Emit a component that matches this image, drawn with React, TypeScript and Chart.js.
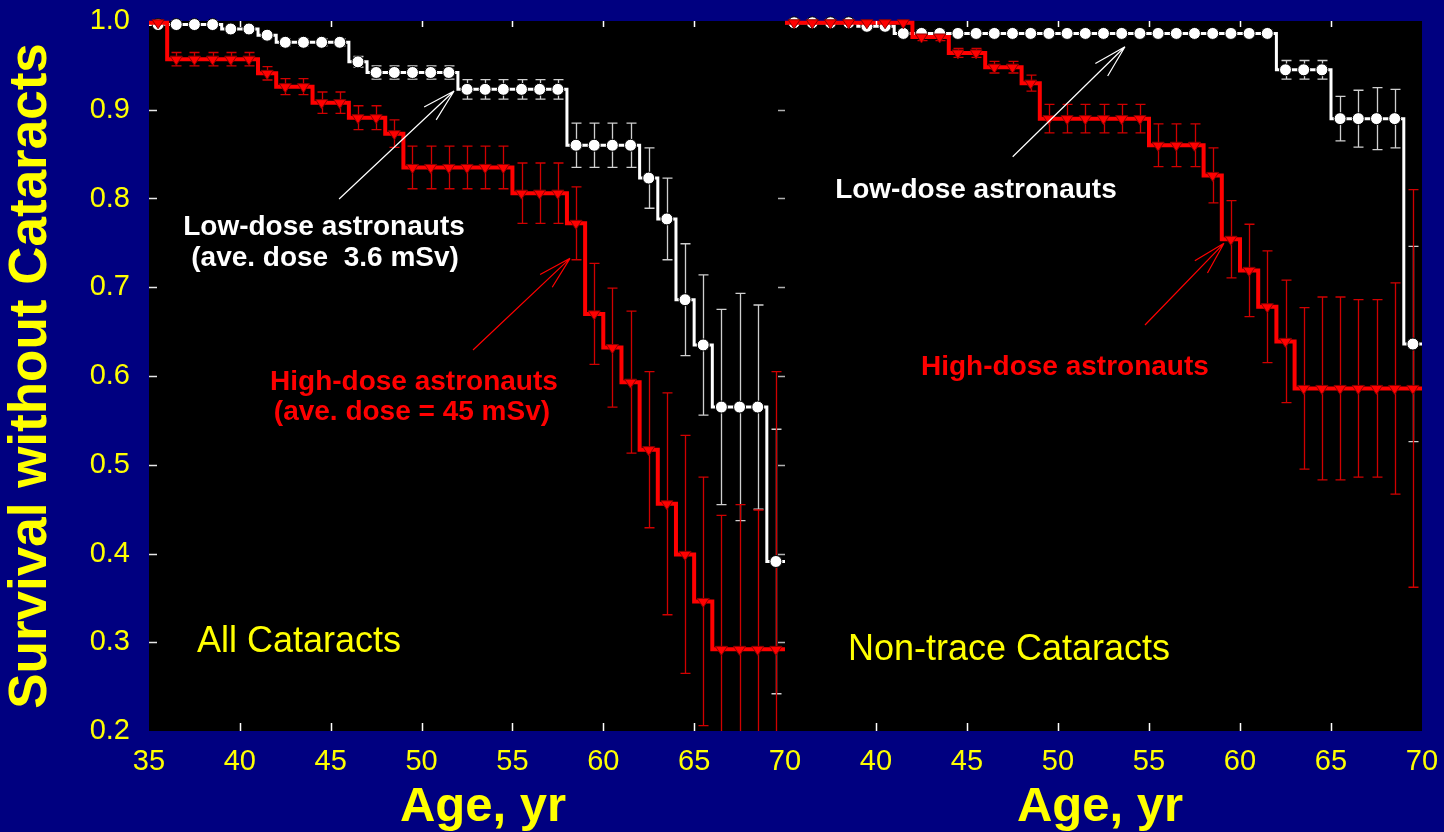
import React, { useEffect, useRef } from 'react';
import { Chart, registerables } from 'chart.js';

Chart.register(...registerables);

const FONT = "'Liberation Sans', Arial, Helvetica, sans-serif";
const YELLOW = '#ffff00';
const NAVY = '#000080';

// ---- data ----
const AGE_MIN = 35;
const AGE_MAX = 70;
const X_TICKS = [35, 40, 45, 50, 55, 60, 65, 70];
const Y_TICKS = [0.2, 0.3, 0.4, 0.5, 0.6, 0.7, 0.8, 0.9, 1.0];

const AGES = [
  35.5, 36.5, 37.5, 38.5, 39.5, 40.5, 41.5, 42.5, 43.5, 44.5, 45.5, 46.5,
  47.5, 48.5, 49.5, 50.5, 51.5, 52.5, 53.5, 54.5, 55.5, 56.5, 57.5, 58.5,
  59.5, 60.5, 61.5, 62.5, 63.5, 64.5, 65.5, 66.5, 67.5, 68.5, 69.5,
];

// All cataracts – low-dose astronauts
const ALL_LOW = [
  0.996, 0.996, 0.996, 0.996, 0.991, 0.991, 0.984, 0.976, 0.976, 0.976, 0.976, 0.954,
  0.942, 0.942, 0.942, 0.942, 0.942, 0.923, 0.923, 0.923, 0.923, 0.923, 0.923, 0.86,
  0.86, 0.86, 0.86, 0.823, 0.777, 0.686, 0.635, 0.565, 0.565, 0.565, 0.391,
];
const ALL_LOW_ERR = [
  0, 0, 0, 0, 0, 0, 0, 0.004, 0.004, 0.004, 0.004, 0.006,
  0.0075, 0.0075, 0.0075, 0.0075, 0.0075, 0.011, 0.011, 0.011, 0.011, 0.011, 0.011, 0.025,
  0.025, 0.025, 0.025, 0.034, 0.046, 0.063, 0.079, 0.11, 0.128, 0.115, 0.149,
];
// All cataracts – high-dose astronauts
const ALL_HIGH = [
  0.998, 0.957, 0.957, 0.957, 0.957, 0.957, 0.941, 0.926, 0.926, 0.908, 0.908, 0.891,
  0.891, 0.873, 0.835, 0.835, 0.835, 0.835, 0.835, 0.835, 0.806, 0.806, 0.806, 0.772,
  0.67, 0.632, 0.593, 0.517, 0.456, 0.399, 0.346, 0.292, 0.292, 0.292, 0.292,
];
const ALL_HIGH_ERR = [
  0, 0.0075, 0.0075, 0.0075, 0.0075, 0.0075, 0.0075, 0.009, 0.009, 0.012, 0.012, 0.0135,
  0.0135, 0.0155, 0.024, 0.024, 0.024, 0.024, 0.024, 0.024, 0.034, 0.034, 0.034, 0.041,
  0.057, 0.067, 0.08, 0.088, 0.125, 0.134, 0.14, 0.151, 0.163, 0.157, 0.313,
];
// Non-trace cataracts – low-dose astronauts
const NT_LOW = [
  0.998, 0.998, 0.998, 0.998, 0.994, 0.994, 0.986, 0.986, 0.986, 0.986, 0.986, 0.986,
  0.986, 0.986, 0.986, 0.986, 0.986, 0.986, 0.986, 0.986, 0.986, 0.986, 0.986, 0.986,
  0.986, 0.986, 0.986, 0.945, 0.945, 0.945, 0.89, 0.89, 0.89, 0.89, 0.636,
];
const NT_LOW_ERR = [
  0, 0, 0, 0, 0, 0, 0, 0, 0, 0, 0, 0,
  0, 0, 0, 0, 0, 0, 0, 0, 0, 0, 0, 0,
  0, 0, 0, 0.0105, 0.0105, 0.0105, 0.025, 0.032, 0.035, 0.033, 0.11,
];
// Non-trace cataracts – high-dose astronauts
const NT_HIGH = [
  0.998, 0.998, 0.998, 0.998, 0.998, 0.998, 0.998, 0.982, 0.982, 0.964, 0.964, 0.948,
  0.948, 0.93, 0.89, 0.89, 0.89, 0.89, 0.89, 0.89, 0.86, 0.86, 0.86, 0.826,
  0.754, 0.719, 0.678, 0.639, 0.586, 0.586, 0.586, 0.586, 0.586, 0.586, 0.586,
];
const NT_HIGH_ERR = [
  0, 0, 0, 0, 0, 0, 0, 0.004, 0.004, 0.005, 0.005, 0.0066,
  0.0066, 0.009, 0.016, 0.016, 0.016, 0.016, 0.016, 0.016, 0.024, 0.024, 0.024, 0.031,
  0.0435, 0.052, 0.063, 0.069, 0.091, 0.103, 0.103, 0.1, 0.1, 0.119, 0.224,
];

type Txt = { text: string; age: number; surv: number; color: string; font: string };
type Arrow = { from: [number, number]; to: [number, number]; color: string };
type Panel = {
  low: number[]; lowErr: number[]; high: number[]; highErr: number[];
  texts: Txt[]; arrows: Arrow[]; titleAge: number; first: boolean;
};

const BOLD = `bold 28px ${FONT}`;
const BIG = `36px ${FONT}`;

const LEFT: Panel = {
  low: ALL_LOW, lowErr: ALL_LOW_ERR, high: ALL_HIGH, highErr: ALL_HIGH_ERR,
  first: true, titleAge: 53.38,
  texts: [
    { text: 'Low-dose astronauts', age: 44.63, surv: 0.768, color: '#ffffff', font: BOLD },
    { text: '(ave. dose  3.6 mSv)', age: 44.69, surv: 0.733, color: '#ffffff', font: BOLD },
    { text: 'High-dose astronauts', age: 49.58, surv: 0.593, color: '#ff0000', font: BOLD },
    { text: '(ave. dose = 45 mSv)', age: 49.47, surv: 0.559, color: '#ff0000', font: BOLD },
    { text: 'All Cataracts', age: 43.25, surv: 0.3, color: YELLOW, font: BIG },
  ],
  arrows: [
    { from: [45.46, 0.7994], to: [51.79, 0.9211], color: '#ffffff' },
    { from: [52.83, 0.6293], to: [58.17, 0.7326], color: '#ff0000' },
  ],
};

const RIGHT: Panel = {
  low: NT_LOW, lowErr: NT_LOW_ERR, high: NT_HIGH, highErr: NT_HIGH_ERR,
  first: false, titleAge: 52.31,
  texts: [
    { text: 'Low-dose astronauts', age: 45.49, surv: 0.8096, color: '#ffffff', font: BOLD },
    { text: 'High-dose astronauts', age: 50.38, surv: 0.6101, color: '#ff0000', font: BOLD },
    { text: 'Non-trace Cataracts', age: 47.31, surv: 0.2913, color: YELLOW, font: BIG },
  ],
  arrows: [
    { from: [47.51, 0.8471], to: [53.68, 0.971], color: '#ffffff' },
    { from: [54.78, 0.6575], to: [59.12, 0.7495], color: '#ff0000' },
  ],
};

function series(values: number[], errors: number[], high: boolean) {
  const pts = AGES.map((a, i) => ({ x: a, y: values[i] }));
  const color = high ? '#ff0000' : '#ffffff';
  const line = {
    data: [{ x: AGE_MIN, y: values[0] }, ...pts, { x: AGE_MAX, y: values[values.length - 1] }],
    stepped: 'middle',
    borderColor: color,
    borderWidth: high ? 4 : 3,
    pointRadius: 0,
    pointHoverRadius: 0,
    fill: false,
    clip: false,
  };
  const marks = {
    data: pts,
    showLine: false,
    pointStyle: 'circle',
    // triangles of the high-dose series are painted by the marker plugin on top of the lines
    pointRadius: high ? 0 : 6,
    pointHoverRadius: high ? 0 : 6,
    pointBackgroundColor: color,
    pointBorderColor: '#000000',
    pointBorderWidth: 1,
    backgroundColor: color,
    borderColor: '#000000',
    clip: false,
    errors,
    errColor: high ? '#d00000' : '#cfcfcf',
    triangles: high,
  };
  return { line, marks };
}

function makeChart(canvas: HTMLCanvasElement, p: Panel) {
  const bg = {
    id: 'panelBg',
    beforeDraw(chart: any) {
      const { ctx, chartArea: a } = chart;
      ctx.save();
      ctx.fillStyle = '#000000';
      ctx.fillRect(a.left, a.top, a.right - a.left, a.bottom - a.top);
      ctx.restore();
    },
  };
  const err = {
    id: 'errBars',
    beforeDatasetsDraw(chart: any) {
      const { ctx, chartArea: a } = chart;
      const xs = chart.scales.x;
      const ys = chart.scales.y;
      ctx.save();
      ctx.beginPath();
      ctx.rect(a.left, a.top, a.right - a.left, a.bottom - a.top);
      ctx.clip();
      const dss = [...chart.data.datasets].reverse();
      dss.forEach((ds: any) => {
        if (!ds.errors) return;
        ctx.strokeStyle = ds.errColor;
        ctx.lineWidth = 1.3;
        ds.data.forEach((pt: any, i: number) => {
          const e = ds.errors[i];
          if (!e) return;
          const px = Math.round(xs.getPixelForValue(pt.x)) + 0.5;
          const yt = ys.getPixelForValue(pt.y + e);
          const yb = ys.getPixelForValue(pt.y - e);
          ctx.beginPath();
          ctx.moveTo(px, yt);
          ctx.lineTo(px, yb);
          ctx.moveTo(px - 5, yt);
          ctx.lineTo(px + 5, yt);
          ctx.moveTo(px - 5, yb);
          ctx.lineTo(px + 5, yb);
          ctx.stroke();
        });
      });
      ctx.restore();
    },
  };
  const markers = {
    id: 'triMarkers',
    afterDatasetsDraw(chart: any) {
      const { ctx } = chart;
      ctx.save();
      chart.data.datasets.forEach((ds: any, di: number) => {
        if (!ds.triangles) return;
        const meta = chart.getDatasetMeta(di);
        meta.data.forEach((el: any) => {
          const x = el.x;
          const y = el.y;
          ctx.beginPath();
          ctx.moveTo(x - 6, y - 3);
          ctx.lineTo(x + 6, y - 3);
          ctx.lineTo(x, y + 6);
          ctx.closePath();
          ctx.fillStyle = '#ff0000';
          ctx.fill();
          ctx.strokeStyle = '#8a0000';
          ctx.lineWidth = 1;
          ctx.stroke();
        });
      });
      ctx.restore();
    },
  };
  const deco = {
    id: 'deco',
    afterDraw(chart: any) {
      const { ctx, chartArea: a } = chart;
      const xs = chart.scales.x;
      const ys = chart.scales.y;
      ctx.save();
      // inner tick marks
      ctx.strokeStyle = '#ffffff';
      ctx.lineWidth = 1.5;
      X_TICKS.slice(1, -1).forEach((v) => {
        const px = Math.round(xs.getPixelForValue(v)) + 0.5;
        ctx.beginPath();
        ctx.moveTo(px, a.bottom);
        ctx.lineTo(px, a.bottom - 8);
        ctx.moveTo(px, a.top);
        ctx.lineTo(px, a.top + 6);
        ctx.stroke();
      });
      if (p.first) {
        Y_TICKS.slice(1, -1).forEach((v) => {
          const py = Math.round(ys.getPixelForValue(v)) + 0.5;
          ctx.strokeStyle = '#e8e8e8';
          ctx.beginPath();
          ctx.moveTo(a.left, py);
          ctx.lineTo(a.left + 8, py);
          ctx.stroke();
          ctx.strokeStyle = '#b0b0b0';
          ctx.beginPath();
          ctx.moveTo(a.right - 7, py);
          ctx.lineTo(a.right, py);
          ctx.stroke();
        });
      }
      // arrows
      p.arrows.forEach((ar) => {
        const x0 = xs.getPixelForValue(ar.from[0]);
        const y0 = ys.getPixelForValue(ar.from[1]);
        const x1 = xs.getPixelForValue(ar.to[0]);
        const y1 = ys.getPixelForValue(ar.to[1]);
        const ang = Math.atan2(y0 - y1, x0 - x1);
        const L = 34;
        const d = (15 * Math.PI) / 180;
        ctx.strokeStyle = ar.color;
        ctx.lineWidth = 1.2;
        ctx.beginPath();
        ctx.moveTo(x0, y0);
        ctx.lineTo(x1, y1);
        ctx.moveTo(x1, y1);
        ctx.lineTo(x1 + L * Math.cos(ang + d), y1 + L * Math.sin(ang + d));
        ctx.moveTo(x1, y1);
        ctx.lineTo(x1 + L * Math.cos(ang - d), y1 + L * Math.sin(ang - d));
        ctx.stroke();
      });
      // texts
      ctx.textAlign = 'center';
      ctx.textBaseline = 'middle';
      p.texts.forEach((t) => {
        ctx.font = t.font;
        ctx.fillStyle = t.color;
        ctx.fillText(t.text, xs.getPixelForValue(t.age), ys.getPixelForValue(t.surv));
      });
      // x axis title
      ctx.font = `bold 49px ${FONT}`;
      ctx.fillStyle = YELLOW;
      ctx.textBaseline = 'alphabetic';
      ctx.fillText('Age, yr', xs.getPixelForValue(p.titleAge), 821);
      ctx.restore();
    },
  };

  const hi = series(p.high, p.highErr, true);
  const lo = series(p.low, p.lowErr, false);
  // index 0 is painted last (on top): red line above white circles above white line
  const datasets = [hi.marks, hi.line, lo.marks, lo.line];

  const yScale: any = {
    type: 'linear',
    min: 0.2,
    max: 1.0,
    display: p.first,
    afterBuildTicks: (s: any) => {
      s.ticks = Y_TICKS.map((v) => ({ value: v }));
    },
    grid: {
      display: true,
      drawOnChartArea: false,
      drawTicks: true,
      tickLength: 19,
      color: 'rgba(0,0,0,0)',
    },
    border: { display: false },
    ticks: {
      color: YELLOW,
      font: { family: FONT, size: 29 },
      padding: 0,
      callback: (v: any) => Number(v).toFixed(1),
    },
    title: {
      display: true,
      text: 'Survival without Cataracts',
      color: YELLOW,
      font: { family: FONT, size: 53, weight: 'bold', lineHeight: 1.2 },
      padding: 0,
    },
  };
  if (p.first) {
    yScale.afterFit = (s: any) => {
      s.width = 149;
    };
  }

  return new Chart(canvas, {
    type: 'line',
    data: { datasets } as any,
    options: {
      animation: false,
      responsive: false,
      devicePixelRatio: 1,
      events: [],
      layout: { padding: { top: 21, bottom: 0, left: p.first ? 0 : 15, right: p.first ? 25 : 22 } },
      plugins: { legend: { display: false }, tooltip: { enabled: false } },
      scales: {
        x: {
          type: 'linear',
          min: AGE_MIN,
          max: AGE_MAX,
          afterBuildTicks: (s: any) => {
            s.ticks = X_TICKS.map((v) => ({ value: v }));
          },
          afterFit: (s: any) => {
            s.height = 101;
          },
          grid: {
            display: true,
            drawOnChartArea: false,
            drawTicks: true,
            tickLength: 14,
            color: 'rgba(0,0,0,0)',
          },
          border: { display: false },
          ticks: {
            color: YELLOW,
            font: { family: FONT, size: 29 },
            padding: 0,
            maxRotation: 0,
            autoSkip: false,
            callback: (v: any) => (!p.first && v === AGE_MIN ? '' : String(v)),
          },
        },
        y: yScale,
      },
    } as any,
    plugins: [bg, err, markers, deco],
  });
}

export default function App() {
  const leftRef = useRef<HTMLCanvasElement>(null);
  const rightRef = useRef<HTMLCanvasElement>(null);

  useEffect(() => {
    const c1 = makeChart(leftRef.current!, LEFT);
    const c2 = makeChart(rightRef.current!, RIGHT);
    return () => {
      c1.destroy();
      c2.destroy();
    };
  }, []);

  return (
    <div
      style={{
        position: 'fixed',
        left: 0,
        top: 0,
        width: 1444,
        height: 832,
        background: NAVY,
        overflow: 'hidden',
      }}
    >
      <canvas
        ref={leftRef}
        width={810}
        height={832}
        style={{ position: 'absolute', left: 0, top: 0, width: 810, height: 832 }}
      />
      <canvas
        ref={rightRef}
        width={674}
        height={832}
        style={{ position: 'absolute', left: 770, top: 0, width: 674, height: 832 }}
      />
    </div>
  );
}
